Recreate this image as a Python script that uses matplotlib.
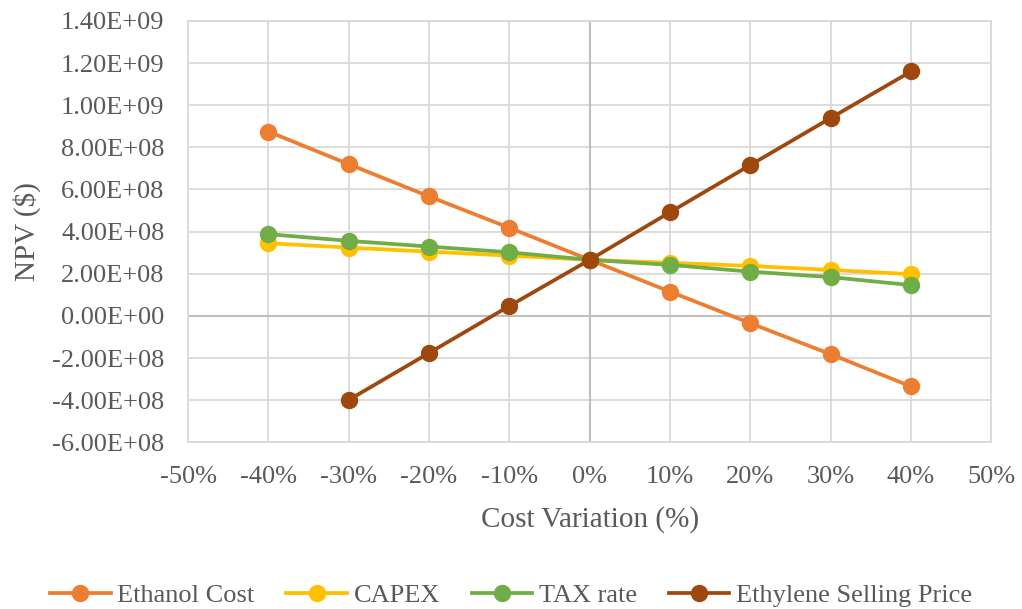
import numpy as np
import matplotlib
matplotlib.use("Agg")
import matplotlib.pyplot as plt
from matplotlib.ticker import FuncFormatter, MultipleLocator

# Sensitivity of NPV to +/- changes in each input
variation = [-40, -30, -20, -10, 0, 10, 20, 30, 40]
ethanol_cost = [875e6, 720e6, 567e6, 418e6, 266e6, 115e6, -35e6, -182e6, -335e6]
capex = [345e6, 324e6, 305e6, 286e6, 266e6, 252e6, 237e6, 218e6, 198e6]
tax_rate = [388e6, 356e6, 329e6, 302e6, 266e6, 242e6, 210e6, 184e6, 146e6]
ethylene_price = [np.nan, -399e6, -176e6, 47e6, 266e6, 492e6, 716e6, 939e6, 1160e6]

series = [
    ("Ethanol Cost", ethanol_cost, "#ED7D31"),
    ("CAPEX", capex, "#FFC000"),
    ("TAX rate", tax_rate, "#70AD47"),
    ("Ethylene Selling Price", ethylene_price, "#9E480E"),
]

text_col = "#595959"
plt.rcParams["font.family"] = ["Liberation Serif", "DejaVu Serif"]

fig = plt.figure(figsize=(10.22, 6.09), dpi=100)
ax = fig.add_axes([0.184, 0.2737, 0.786, 0.692])

for name, vals, col in series:
    ax.plot(variation, vals, color=col, lw=2.7, marker="o", ms=11.5, label=name)

ax.set_xlim(-50, 50)
ax.set_ylim(-6e8, 1.4e9)
ax.xaxis.set_major_locator(MultipleLocator(10))
ax.yaxis.set_major_locator(MultipleLocator(2e8))
ax.xaxis.set_major_formatter(FuncFormatter(lambda v, p: f"{v:.0f}%"))
ax.yaxis.set_major_formatter(FuncFormatter(lambda v, p: f"{v:.2E}"))

ax.grid(True, color="#D9D9D9", lw=1.3, zorder=0)
ax.set_axisbelow(True)
ax.axhline(0, color="#BFBFBF", lw=1.5, zorder=1)
ax.axvline(0, color="#BFBFBF", lw=1.5, zorder=1)
for s in ax.spines.values():
    s.set_color("#D9D9D9")
    s.set_linewidth(1.3)

ax.tick_params(axis="both", length=0, colors=text_col)
ax.tick_params(axis="x", labelsize=19, pad=17)
ax.tick_params(axis="y", labelsize=19, pad=17)

ax.set_xlabel("Cost Variation (%)", fontsize=21, color=text_col, labelpad=13)
ax.set_ylabel("NPV ($)", fontsize=21, color=text_col, labelpad=8)

fig.legend(loc="lower center", bbox_to_anchor=(0.5, -0.027), ncol=4, frameon=False,
           fontsize=19, labelcolor=text_col, handlelength=2.3, columnspacing=1.2,
           handletextpad=0.25, borderaxespad=0.3)

fig.savefig("out.png", dpi=100)
